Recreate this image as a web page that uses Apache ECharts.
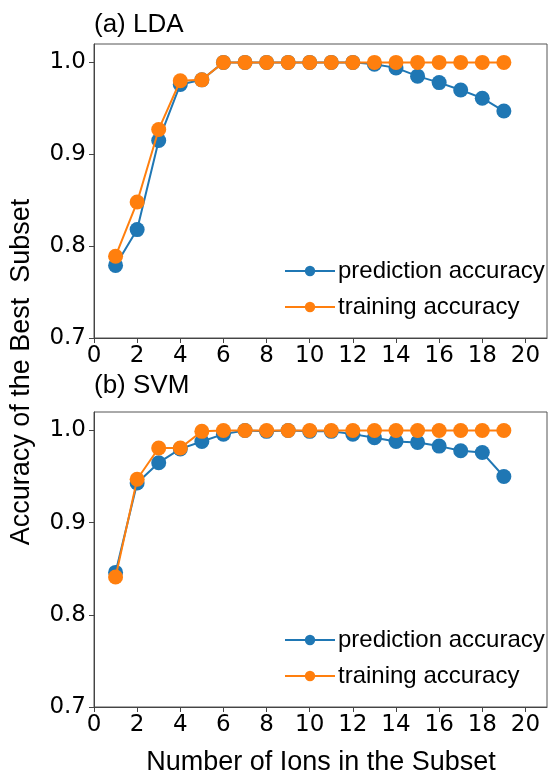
<!DOCTYPE html>
<html><head><meta charset="utf-8">
<script src="https://cdn.jsdelivr.net/npm/echarts@6/dist/echarts.min.js"></script>
<style>html,body{margin:0;padding:0;background:#fff}#c{width:548px;height:774px}</style>
</head><body><div id="c"></div>
<script>
const ions = [1,2,3,4,5,6,7,8,9,10,11,12,13,14,15,16,17,18,19];
const ldaPred  = [0.779,0.818,0.915,0.976,0.981,1.0,1.0,1.0,1.0,1.0,1.0,1.0,0.998,0.994,0.985,0.978,0.970,0.961,0.947];
const ldaTrain = [0.789,0.848,0.927,0.980,0.981,1.0,1.0,1.0,1.0,1.0,1.0,1.0,1.0,1.0,1.0,1.0,1.0,1.0,1.0];
const svmPred  = [0.846,0.943,0.965,0.980,0.988,0.996,1.0,0.999,1.0,0.999,0.999,0.996,0.992,0.988,0.987,0.983,0.978,0.976,0.950];
const svmTrain = [0.841,0.947,0.981,0.981,0.999,1.0,1.0,1.0,1.0,1.0,1.0,1.0,1.0,1.0,1.0,1.0,1.0,1.0,1.0];
const xTicks = [0,2,4,6,8,10,12,14,16,18,20];
const yTicks = [0.7,0.8,0.9,1.0];
const seriesNames = ['prediction accuracy','training accuracy'];
const colors = ['#1f77b4','#ff7f0e'];
const tickFont = 'DejaVu Sans';
const textFont = 'Liberation Sans';

const chart = echarts.init(document.getElementById('c'), null, {renderer:'canvas'});
const pair = (ys) => ions.map((x,i)=>[x, ys[i]]);

function xAx(gi){
  return {type:'value', gridIndex:gi, min:0, max:21,
    axisLine:{show:true, lineStyle:{color:'#444', width:1}},
    axisTick:{show:true, customValues:xTicks, length:5, lineStyle:{color:'#444'}},
    axisLabel:{customValues:xTicks, color:'#000', fontFamily:tickFont, fontSize:23, margin:7},
    splitLine:{show:false}};
}
function yAx(gi){
  return {type:'value', gridIndex:gi, min:0.7, max:1.02,
    axisLine:{show:true, lineStyle:{color:'#444', width:1}},
    axisTick:{show:true, customValues:yTicks, length:5, lineStyle:{color:'#444'}},
    axisLabel:{customValues:yTicks, color:'#000', fontFamily:tickFont, fontSize:23, margin:8,
      formatter:(v)=>v.toFixed(1)},
    splitLine:{show:false}};
}
function ser(name, ys, gi, ci, z){
  return {name:name, type:'line', xAxisIndex:gi, yAxisIndex:gi, data:pair(ys),
    symbol:'circle', symbolSize:15, showSymbol:true, z:z,
    lineStyle:{color:colors[ci], width:2}, itemStyle:{color:colors[ci]},
    emphasis:{disabled:true}, animation:false};
}
function leg(top){
  return {orient:'vertical', left:279, top:top, itemWidth:50, itemHeight:13, itemGap:12,
    data:seriesNames, selectedMode:false,
    textStyle:{fontFamily:textFont, fontSize:24, color:'#000', padding:[0,0,0,-2]}};
}

chart.setOption({
  animation:false,
  grid:[
    {left:94, top:44, right:1, height:294, show:true, borderColor:'#555', borderWidth:1},
    {left:94, top:412, right:1, height:295, show:true, borderColor:'#555', borderWidth:1}
  ],
  xAxis:[xAx(0), xAx(1)],
  yAxis:[yAx(0), yAx(1)],
  legend:[leg(254), leg(623)],
  series:[
    ser(seriesNames[0], ldaPred, 0, 0, 2),
    ser(seriesNames[1], ldaTrain, 0, 1, 3),
    ser(seriesNames[0], svmPred, 1, 0, 2),
    ser(seriesNames[1], svmTrain, 1, 1, 3)
  ],
  graphic:[
    {type:'text', x:94, y:25, style:{text:'(a) LDA', fontFamily:textFont, fontSize:26, fill:'#000', verticalAlign:'middle'}},
    {type:'text', x:94, y:386, style:{text:'(b) SVM', fontFamily:textFont, fontSize:26, fill:'#000', verticalAlign:'middle'}},
    {type:'text', x:22, y:372, rotation:Math.PI/2, style:{text:'Accuracy of the Best  Subset', fontFamily:textFont, fontSize:27, fill:'#000', align:'center', verticalAlign:'middle'}},
    {type:'text', x:321, y:763, style:{text:'Number of Ions in the Subset', fontFamily:textFont, fontSize:27, fill:'#000', align:'center', verticalAlign:'middle'}}
  ]
});
</script></body></html>
